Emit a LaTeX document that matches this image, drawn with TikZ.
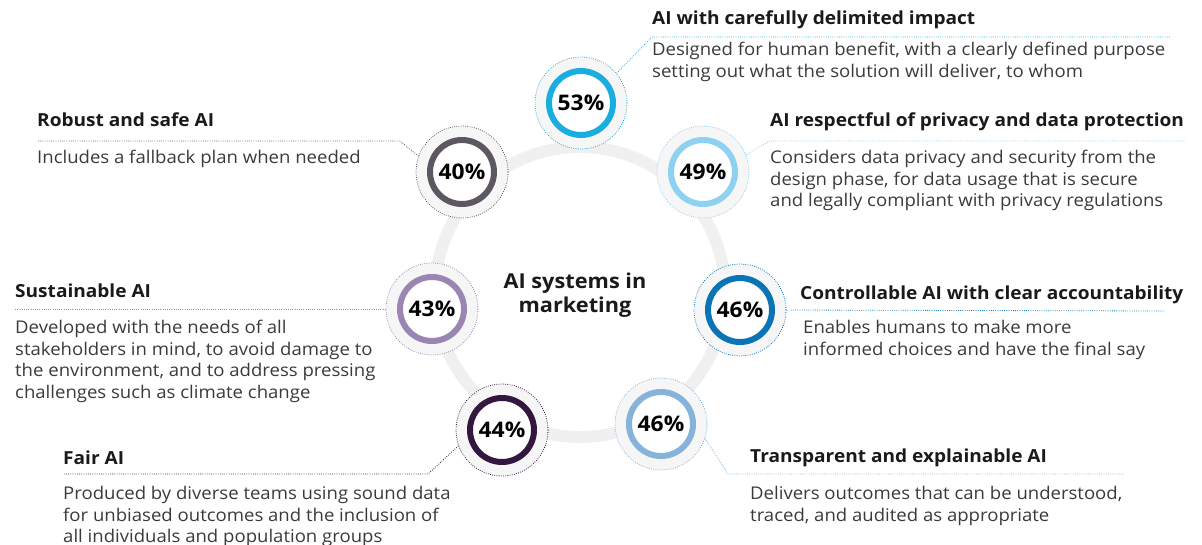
\documentclass[tikz,border=0pt]{standalone}
\usepackage{fontspec}
\setmainfont[FakeStretch=1.06]{Open Sans}
\usepackage{tikz}
\usetikzlibrary{positioning}
\definecolor{ink}{HTML}{1A1A1A}
\definecolor{body}{HTML}{3A3A3A}
\definecolor{ringgray}{HTML}{F0F0F0}
\definecolor{halogray}{HTML}{F6F6F6}
\definecolor{cimpact}{HTML}{1AAEE0}
\definecolor{crobust}{HTML}{5C5760}
\definecolor{cprivacy}{HTML}{8ED1F1}
\definecolor{csustain}{HTML}{9B86B3}
\definecolor{ccontrol}{HTML}{0A74B4}
\definecolor{cfair}{HTML}{33173F}
\definecolor{ctransp}{HTML}{87B3DB}

\begin{document}
\begin{tikzpicture}[x=1pt,y=-1pt,
 halo/.style={circle,draw=#1,fill=halogray,line width=0.8pt,dash pattern=on 0.8pt off 1.4pt,minimum size=92pt,inner sep=0pt},
 pct/.style={circle,draw=#1,fill=white,line width=6pt,minimum size=64pt,inner sep=0pt,font=\fontsize{21.5}{24}\selectfont\bfseries,text=black},
 title/.style={anchor=north west,inner sep=0pt,font=\fontsize{18}{21}\selectfont\bfseries,text=ink},
 desc/.style={anchor=north west,inner sep=0pt,align=left,font=\fontsize{17.5}{21.5}\selectfont,text=body},
 link/.style={draw=#1,line width=0.8pt,dash pattern=on 0.8pt off 1.4pt}
]
\useasboundingbox (0,0) rectangle (1202,544);

% central ring
\node[circle,draw=ringgray,line width=12pt,minimum size=290pt] (hub) at (580,292) {};
\node[align=center,font=\fontsize{20.5}{23.5}\selectfont\bfseries,text=ink] (hub-t) at (575,295) {AI systems in\\marketing};

% badges
\node[halo=cimpact] (impact) at (581,103) {};
\node[pct=cimpact] (impact-pct) at (impact) {53\%};
\node[halo=crobust] (robust) at (462,172) {};
\node[pct=crobust] (robust-pct) at (robust) {40\%};
\node[halo=cprivacy] (privacy) at (703,172) {};
\node[pct=cprivacy] (privacy-pct) at (privacy) {49\%};
\node[halo=csustain] (sustain) at (432,309) {};
\node[pct=csustain] (sustain-pct) at (sustain) {43\%};
\node[halo=ccontrol] (control) at (740,310) {};
\node[pct=ccontrol] (control-pct) at (control) {46\%};
\node[halo=cfair] (fair) at (502,430) {};
\node[pct=cfair] (fair-pct) at (fair) {44\%};
\node[halo=ctransp] (transp) at (661,424) {};
\node[pct=ctransp] (transp-pct) at (transp) {46\%};

% labels
\node[title] (impact-t) at (652,11) {AI with carefully delimited impact};
\node[desc] (impact-d) at (652,42) {Designed for human benefit, with a clearly defined purpose\\setting out what the solution will deliver, to whom};
\node[title] (robust-t) at (37,113) {Robust and safe AI};
\node[desc] (robust-d) at (37,150) {Includes a fallback plan when needed};
\node[title] (privacy-t) at (770,113) {AI respectful of privacy and data protection};
\node[desc] (privacy-d) at (770,150) {Considers data privacy and security from the\\design phase, for data usage that is secure\\and legally compliant with privacy regulations};
\node[title] (sustain-t) at (15,284) {Sustainable AI};
\node[desc] (sustain-d) at (15,320) {Developed with the needs of all\\stakeholders in mind, to avoid damage to\\the environment, and to address pressing\\challenges such as climate change};
\node[title] (control-t) at (800,286) {Controllable AI with clear accountability};
\node[desc] (control-d) at (803,320) {Enables humans to make more\\informed choices and have the final say};
\node[title] (fair-t) at (63,451) {Fair AI};
\node[desc] (fair-d) at (63,486) {Produced by diverse teams using sound data\\for unbiased outcomes and the inclusion of\\all individuals and population groups};
\node[title] (transp-t) at (750,449) {Transparent and explainable AI};
\node[desc] (transp-d) at (750,486) {Delivers outcomes that can be understood,\\traced, and audited as appropriate};

% leader lines
\coordinate (impact-k) at (652,37);
\coordinate (impact-e) at (1170,37);
\coordinate (robust-k) at (400,141);
\coordinate (robust-e) at (37,141);
\coordinate (privacy-k) at (770,141);
\coordinate (privacy-e) at (1185,141);
\coordinate (sustain-e) at (15,309);
\coordinate (control-e) at (1165,311);
\coordinate (fair-k) at (428,474);
\coordinate (fair-e) at (63,474);
\coordinate (transp-k) at (728,474);
\coordinate (transp-e) at (1125,474);
\draw[link=cimpact] (impact.40) -- (impact-k) -- (impact-e);
\draw[link=crobust] (robust.160) -- (robust-k) -- (robust-e);
\draw[link=cprivacy] (privacy.22) -- (privacy-k) -- (privacy-e);
\draw[link=csustain] (sustain.west) -- (sustain-e);
\draw[link=ccontrol] (control.east) -- (control-e);
\draw[link=cfair] (fair.200) -- (fair-k) -- (fair-e);
\draw[link=ctransp] (transp.-18) -- (transp-k) -- (transp-e);
\end{tikzpicture}
\end{document}
